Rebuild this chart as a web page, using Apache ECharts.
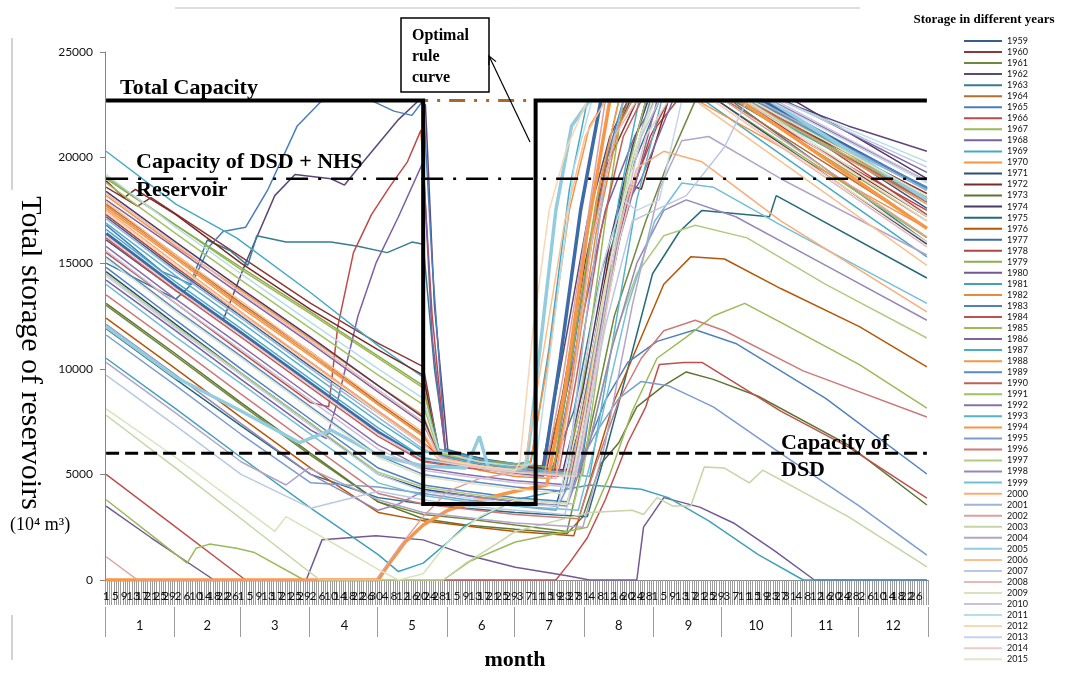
<!DOCTYPE html>
<html>
<head>
<meta charset="utf-8">
<script src="https://cdn.jsdelivr.net/npm/echarts@6/dist/echarts.min.js"></script>
<style>
  html, body { margin: 0; padding: 0; background: #fff; }
  #chart { width: 1067px; height: 700px; }
</style>
</head>
<body>
<div id="chart"></div>
<script>
// days of a leap year (the axis has a Feb 29), labels are day-of-month
const monthDays = [31, 29, 31, 30, 31, 30, 31, 31, 30, 31, 30, 31];
const monthNames = ['1', '2', '3', '4', '5', '6', '7', '8', '9', '10', '11', '12'];

const years = [1959, 1960, 1961, 1962, 1963, 1964, 1965, 1966, 1967, 1968, 1969, 1970,
  1971, 1972, 1973, 1974, 1975, 1976, 1977, 1978, 1979, 1980, 1981, 1982, 1983, 1984,
  1985, 1986, 1987, 1988, 1989, 1990, 1991, 1992, 1993, 1994, 1995, 1996, 1997, 1998,
  1999, 2000, 2001, 2002, 2003, 2004, 2005, 2006, 2007, 2008, 2009, 2010, 2011, 2012,
  2013, 2014, 2015];
const thickYears = [1977, 1994, 2005];

// reference levels (10^4 m3)
const totalCapacity = 22700;
const dsdNhsCapacity = 19000;
const dsdCapacity = 6000;
// optimal rule curve: [day index, storage]
const ruleCurve = [[0, 22700], [141, 22700], [141, 3600], [191, 3600], [191, 22700], [365, 22700]];

// storage per year as [day index, storage] points
const storage = [
  [[0,17200],[31,14700],[60,12500],[91,10100],[121,7900],[141,6400],[149,5900],[166,5500],[182,5200],[199,5000],[207,9500],[216,16000],[226,21000],[233,22700],[282,22700],[320,20700],[365,17600]],
  [[0,18600],[14,17700],[20,18100],[60,15300],[91,13100],[121,11200],[141,10100],[148,6100],[165,5700],[182,5400],[196,5300],[203,8800],[213,15000],[222,19500],[236,22700],[284,22700],[365,18300]],
  [[0,13000],[31,10600],[60,8300],[91,5900],[121,3700],[141,3100],[160,2900],[182,2600],[205,2300],[213,6000],[226,12500],[240,17000],[250,19800],[262,22700],[292,22700],[365,17900]],
  [[0,16100],[31,13700],[52,12300],[62,15000],[75,18200],[84,19200],[100,19000],[106,18700],[112,19500],[130,21800],[139,22700],[142,22500],[146,13000],[152,6100],[170,5700],[182,5500],[194,5400],[202,10000],[214,17000],[224,21000],[232,22700],[300,22700],[330,21500],[365,20300]],
  [[0,15000],[31,13300],[37,13900],[45,16100],[55,15600],[63,14900],[67,16300],[80,16000],[100,16000],[112,15800],[125,15500],[136,16000],[141,15900],[146,10000],[151,6200],[168,5700],[182,5400],[198,5200],[208,8000],[220,14500],[232,19000],[246,22700],[278,22700],[365,16000]],
  [[0,17800],[31,15400],[60,13100],[91,10800],[121,8400],[141,6900],[148,5800],[165,5400],[182,5100],[194,4900],[204,9000],[214,15000],[223,20000],[232,22700],[276,22700],[365,16700]],
  [[0,16800],[25,14600],[38,14000],[46,15800],[52,16500],[62,16700],[72,18500],[85,21500],[96,22700],[118,22700],[128,22200],[136,22000],[141,22700],[145,15000],[151,6000],[170,5600],[182,5400],[199,5200],[208,11000],[220,19000],[230,22700],[286,22700],[365,18600]],
  [[0,15500],[31,13100],[60,10800],[91,8400],[99,8200],[103,12000],[110,15500],[118,17300],[126,18600],[134,19800],[140,21300],[145,12500],[151,6000],[170,5600],[182,5300],[207,5000],[218,11000],[232,18000],[245,21500],[254,22700],[290,22700],[365,17300]],
  [[0,19100],[31,16800],[60,14700],[91,12600],[121,10500],[141,9100],[148,6100],[166,5600],[182,5300],[205,5000],[213,10000],[222,17000],[230,22700],[272,22700],[365,16200]],
  [[0,14200],[31,11800],[60,9500],[91,7100],[98,6700],[103,8500],[112,12500],[120,15000],[130,17200],[141,19800],[145,11500],[151,5900],[170,5500],[182,5300],[197,5100],[208,10500],[222,17500],[235,21000],[244,22700],[281,22700],[365,18100]],
  [[0,20300],[31,17800],[58,16200],[91,13600],[121,11100],[141,9600],[148,6200],[166,5700],[182,5500],[189,5600],[197,11000],[206,18500],[214,22700],[266,22700],[365,15300]],
  [[0,18200],[31,15800],[60,13700],[91,11400],[121,9200],[141,7800],[148,5900],[166,5500],[182,5300],[188,5200],[196,10000],[206,17500],[215,21500],[222,22700],[263,22700],[365,16650]],
  [[0,14600],[31,12100],[60,9800],[91,7400],[121,5000],[141,4300],[160,4000],[182,3700],[200,3500],[210,7000],[221,13500],[232,19500],[240,22700],[272,22700],[365,15900]],
  [[0,18900],[8,18100],[13,18500],[31,17300],[60,15000],[91,12800],[121,10900],[141,9700],[148,5900],[166,5500],[182,5400],[205,5200],[214,9500],[224,15500],[233,18700],[238,18500],[250,22700],[282,22700],[365,17200]],
  [[0,13100],[31,10700],[60,8400],[91,6000],[121,3700],[141,2900],[160,2600],[182,2400],[205,2200],[212,3000],[220,5500],[228,6500],[236,8200],[248,9200],[258,9850],[270,9500],[290,8700],[330,6400],[365,3550]],
  [[0,18400],[31,16000],[60,13800],[91,11500],[121,9200],[141,7700],[148,5800],[166,5400],[182,5200],[203,5100],[212,9000],[224,16000],[234,20500],[241,22700],[306,22700],[365,19000]],
  [[0,11900],[31,9500],[60,7300],[91,5000],[121,3900],[141,3600],[160,3400],[182,3200],[214,3000],[222,6000],[232,10000],[243,14500],[255,16500],[265,17500],[295,17200],[298,18200],[365,14300]],
  [[0,12400],[31,10000],[60,7700],[91,5300],[121,3200],[141,2800],[165,2500],[182,2300],[208,2100],[216,5000],[226,8500],[236,11000],[248,14000],[260,15300],[275,15200],[300,13800],[335,12000],[365,10090]],
  [[0,16400],[31,13900],[60,11700],[91,9300],[121,7000],[141,5700],[160,5400],[182,5100],[194,4900],[202,10500],[211,17500],[220,22700],[292,22700],[365,18500]],
  [[0,17300],[31,14800],[60,12600],[91,10300],[121,8000],[141,6500],[149,5800],[166,5500],[182,5300],[209,5100],[218,10500],[230,17000],[242,21000],[250,22700],[279,22700],[365,17500]],
  [[0,19000],[31,16800],[60,14800],[91,12700],[121,10600],[141,9200],[148,6000],[166,5600],[182,5500],[199,5300],[207,10500],[218,18000],[228,22700],[280,22700],[365,17000]],
  [[0,3500],[20,2000],[48,0],[89,0],[96,1900],[120,2100],[141,1900],[160,1200],[182,600],[205,200],[215,0],[236,0],[239,2500],[248,3900],[264,3450],[279,2700],[297,1400],[315,0],[365,0]],
  [[0,10500],[31,8100],[60,5800],[91,3400],[121,1200],[130,400],[141,800],[152,1800],[160,2600],[182,3800],[200,4200],[215,4500],[238,4300],[250,3900],[268,2800],[290,1200],[310,0],[365,0]],
  [[0,17700],[31,15300],[60,13000],[91,10700],[121,8300],[141,6800],[148,5800],[166,5200],[182,4900],[198,4800],[207,9000],[218,16500],[228,21500],[234,22700],[290,22700],[365,18000]],
  [[0,14800],[31,12300],[60,10000],[91,7600],[121,5300],[141,4500],[160,4200],[182,3900],[205,3700],[212,5800],[222,8500],[232,10300],[245,11300],[262,11850],[280,11200],[320,8600],[365,5020]],
  [[0,5000],[31,2500],[62,0],[200,0],[206,800],[214,2000],[222,3800],[232,6500],[240,8200],[246,10200],[257,10300],[265,10300],[300,8000],[330,6300],[365,3880]],
  [[0,3800],[18,2300],[36,800],[40,1500],[46,1700],[58,1500],[66,1300],[88,0],[150,0],[162,900],[182,1800],[214,2500],[224,5000],[234,8000],[245,10500],[258,11500],[270,12500],[284,13100],[300,12200],[335,10200],[365,8140]],
  [[0,18000],[31,15700],[60,13500],[91,11200],[121,8900],[141,7400],[148,5900],[166,5500],[182,5300],[211,5100],[219,11000],[230,17500],[238,19000],[252,22700],[302,22700],[365,19300]],
  [[0,16600],[31,14100],[60,11900],[91,9500],[121,7200],[141,5800],[160,5400],[182,5100],[210,4900],[218,10000],[228,18000],[237,22700],[282,22700],[365,17900]],
  [[0,17600],[31,15200],[60,12900],[91,10600],[121,8300],[141,6800],[148,5800],[166,5400],[182,5200],[200,5000],[209,11000],[219,18500],[228,22700],[285,22700],[365,17800]],
  [[0,15300],[31,12800],[60,10600],[91,8200],[121,5900],[141,5000],[160,4700],[182,4400],[204,4200],[212,8000],[222,14000],[232,19000],[242,22700],[288,22700],[365,18600]],
  [[0,16200],[31,13700],[60,11500],[91,9100],[121,6800],[141,5600],[160,5300],[182,5100],[201,4900],[209,9500],[220,16500],[230,21000],[238,22700],[286,22700],[365,17900]],
  [[0,18800],[31,16400],[60,14200],[91,11900],[121,9700],[141,8300],[148,6000],[166,5600],[182,5300],[212,5000],[220,11000],[231,19000],[240,22700],[283,22700],[365,18100]],
  [[0,15800],[31,13300],[60,11100],[91,8700],[121,6400],[141,5300],[160,5000],[182,4700],[206,4500],[213,8000],[224,14500],[236,19000],[245,22700],[296,22700],[365,18900]],
  [[0,16900],[31,14400],[60,12200],[91,9800],[121,7500],[141,6100],[152,5800],[166,5500],[182,5300],[215,4900],[224,10500],[236,18000],[247,22700],[286,22700],[365,18500]],
  [[0,0],[121,0],[126,800],[133,1800],[141,2600],[152,3300],[166,3800],[182,4200],[196,4500],[204,9000],[214,16500],[224,22700],[282,22700],[365,16650]],
  [[0,11600],[31,9200],[60,6900],[91,4600],[121,4400],[141,4100],[160,3800],[182,3500],[200,3300],[208,5000],[218,7000],[228,8600],[238,9400],[250,9200],[270,8200],[300,6000],[335,3500],[365,1180]],
  [[0,13500],[31,11100],[60,8800],[91,6400],[121,4100],[141,3600],[165,3300],[182,3100],[210,2900],[218,5500],[228,8500],[238,10500],[248,11800],[262,12300],[275,11800],[310,9900],[365,7720]],
  [[0,14500],[31,12000],[60,9800],[91,7400],[121,5100],[141,4400],[160,4100],[182,3800],[208,3600],[216,7000],[226,11500],[236,14500],[248,16300],[262,16800],[285,16200],[320,14000],[365,11460]],
  [[0,12100],[31,9700],[60,7400],[91,5000],[121,3300],[130,3600],[141,4200],[160,4000],[182,3700],[205,3500],[215,6500],[225,11000],[236,15000],[248,17500],[258,18000],[280,17200],[320,14900],[365,12300]],
  [[0,14000],[31,11500],[60,9300],[91,6900],[121,4600],[141,4000],[160,3700],[182,3500],[210,3300],[220,7500],[232,13000],[244,17000],[256,18800],[270,18600],[300,16800],[365,13100]],
  [[0,17500],[31,15000],[60,12700],[91,10300],[121,8000],[141,6500],[148,5700],[166,5300],[182,5100],[206,4900],[214,9000],[226,16000],[236,19500],[248,20300],[265,19800],[300,17000],[365,12700]],
  [[0,17100],[31,14600],[60,12400],[91,10000],[121,7700],[141,6200],[152,5700],[166,5400],[182,5200],[205,5000],[213,12000],[222,19000],[230,22700],[290,22700],[365,18450]],
  [[0,1100],[14,0],[120,0],[130,1500],[141,3000],[152,4200],[166,4800],[182,5100],[195,5000],[203,9500],[214,17000],[222,22700],[275,22700],[365,16250]],
  [[0,7800],[31,5300],[60,2900],[95,0],[150,0],[160,800],[175,1800],[182,2300],[200,2800],[215,3200],[234,3300],[239,3100],[245,3900],[252,3500],[260,3500],[266,5350],[275,5300],[286,4600],[292,5200],[330,3000],[365,620]],
  [[0,10300],[31,7900],[60,5600],[80,4500],[90,5300],[121,3800],[141,3200],[165,2900],[182,2700],[212,2500],[222,6500],[234,13000],[246,18500],[256,20800],[268,21000],[300,19000],[365,15390]],
  [[0,12000],[31,9600],[60,8000],[86,6500],[93,6800],[100,7100],[121,5900],[141,5400],[160,5300],[166,6800],[170,5300],[182,5200],[187,5400],[193,11000],[200,17500],[207,21500],[215,22700],[295,22700],[365,18000]],
  [[0,17900],[31,15400],[60,13200],[91,10800],[121,8500],[141,7000],[148,5800],[166,5400],[182,5200],[186,5400],[194,10500],[204,17000],[213,21000],[222,22700],[262,22700],[365,14900]],
  [[0,9700],[31,7300],[60,5000],[91,3400],[121,4200],[141,3800],[160,3500],[182,3300],[204,3100],[212,6500],[222,12000],[234,17000],[244,17500],[258,18200],[275,20500],[285,22700],[300,22700],[365,19550]],
  [[0,18300],[31,15900],[60,13600],[91,11300],[121,9000],[141,7500],[148,5800],[166,5300],[182,5000],[200,4800],[207,9000],[216,16000],[226,21000],[236,22700],[270,22700],[365,15770]],
  [[0,8100],[31,5800],[60,3500],[75,2300],[80,3000],[100,1800],[121,500],[130,0],[141,300],[152,1800],[166,3000],[182,3800],[205,3600],[213,8000],[224,15000],[236,20500],[244,22700],[285,22700],[365,17200]],
  [[0,15600],[31,13100],[60,10900],[91,8500],[121,6200],[141,5200],[160,4900],[182,4600],[207,4400],[215,8500],[226,15500],[238,21000],[246,22700],[298,22700],[365,18900]],
  [[0,19200],[31,16700],[60,14500],[91,12200],[121,10000],[141,8600],[148,6100],[166,5600],[182,5400],[191,5500],[199,12000],[208,19500],[216,22700],[300,22700],[365,19800]],
  [[0,17400],[31,14900],[60,12600],[91,10200],[121,7900],[141,6400],[149,5700],[166,5400],[182,5200],[184,5600],[190,12000],[197,17500],[205,20500],[214,22700],[270,22700],[365,16000]],
  [[0,14400],[31,11900],[60,9700],[91,7300],[121,5000],[141,4200],[160,3900],[182,3600],[201,3500],[210,8500],[221,15000],[230,18000],[236,17500],[246,18000],[256,22700],[295,22700],[365,18800]],
  [[0,16300],[31,13800],[60,11600],[91,9200],[121,6900],[141,5700],[160,5400],[182,5100],[209,4900],[217,9500],[228,16000],[240,21000],[250,22700],[284,22700],[365,17000]],
  [[0,15200],[31,12700],[60,10500],[91,8100],[121,5800],[141,4900],[160,4600],[182,4300],[203,4100],[211,8000],[222,14000],[234,20000],[243,22700],[287,22700],[365,18200]]
];

// Excel-like series palette, six hues repeated in shades
const lineColors = [
  '#385D8A', '#8C3836', '#71893F', '#5C4776', '#357D91', '#B66D31',
  '#4A7EBB', '#BE4B48', '#98B954', '#7D60A0', '#46AAC5', '#F69546',
  '#2C4D75', '#772C2A', '#5F7530', '#4D3B62', '#276A7C', '#B65708',
  '#3C6BA8', '#B04541', '#8DAE4E', '#735896', '#43A0BA', '#E88A3E',
  '#4F81BD', '#C0504D', '#9BBB59', '#8064A2', '#4BACC6', '#F79646',
  '#5B8AC4', '#C45E5B', '#A2C066', '#8A70AB', '#58B2CB', '#F79646',
  '#7A9CCE', '#CD7A78', '#B0CB81', '#9987B5', '#74BFD3', '#F9AE7A',
  '#9FB4D9', '#D9A2A1', '#C3D6A3', '#B3A5C8', '#93CDDD', '#FAC090',
  '#B9C9E4', '#E6B9B8', '#D7E4BD', '#CCC1DA', '#B7DDE8', '#FCD5B5',
  '#C6D4EA', '#EBCCCB', '#DCE6C9'
];

// axis categories
const days = [];
const monthOfDay = [];
const monthStart = new Set();
const monthMid = new Set();
monthDays.forEach(function (len, m) {
  monthStart.add(days.length);
  monthMid.add(days.length + Math.floor(len / 2));
  for (let d = 1; d <= len; d++) {
    days.push(String(d));
    monthOfDay.push(monthNames[m]);
  }
});

const serif = '"Liberation Serif", "DejaVu Serif", serif';
const sans = 'Lato, "Open Sans", sans-serif';

const myChart = echarts.init(document.getElementById('chart'), null, { renderer: 'canvas' });

const yearSeries = years.map(function (y, i) {
  const thick = thickYears.indexOf(y) >= 0;
  return {
    name: String(y),
    type: 'line',
    data: storage[i],
    symbol: 'none',
    silent: true,
    lineStyle: { width: thick ? 3.5 : 1.5, color: lineColors[i] },
    itemStyle: { color: lineColors[i] },
    emphasis: { disabled: true },
    z: 2
  };
});

// arrow from the rule curve up to its label box
const tip = [489, 56], tail = [530, 142];
const ang = Math.atan2(tail[1] - tip[1], tail[0] - tip[0]);
const head = function (s) {
  return [tip[0] + 9 * Math.cos(ang + s), tip[1] + 9 * Math.sin(ang + s)];
};

const option = {
  animation: false,
  backgroundColor: '#fff',
  grid: { left: 105, right: 139, top: 52, bottom: 120, containLabel: false },
  legend: {
    orient: 'vertical',
    left: 958,
    top: 31,
    itemWidth: 38,
    itemHeight: 10,
    itemGap: 1.04,
    selectedMode: false,
    data: years.map(String),
    itemStyle: { opacity: 0 },
    textStyle: { fontSize: 9, lineHeight: 10, color: '#111', fontFamily: sans }
  },
  xAxis: [
    {
      type: 'category',
      data: days,
      boundaryGap: true,
      axisLine: { lineStyle: { color: '#868686', width: 1 } },
      axisTick: { show: true, interval: 0, length: 25, lineStyle: { color: '#9c9c9c' } },
      axisLabel: { interval: 3, fontSize: 12, margin: 10, color: '#111', fontFamily: sans },
      splitLine: { show: false }
    },
    {
      type: 'category',
      data: monthOfDay,
      position: 'bottom',
      offset: 27,
      boundaryGap: true,
      axisLine: { show: false },
      axisTick: {
        show: true,
        interval: function (i) { return monthStart.has(i); },
        length: 30,
        lineStyle: { color: '#9c9c9c' }
      },
      axisLabel: {
        interval: function (i) { return monthMid.has(i); },
        fontSize: 13,
        margin: 12,
        color: '#111',
        fontFamily: sans
      },
      splitLine: { show: false }
    }
  ],
  yAxis: {
    type: 'value',
    min: 0,
    max: 25000,
    interval: 5000,
    axisLine: { show: true, lineStyle: { color: '#868686' } },
    axisTick: { show: true, length: 5, lineStyle: { color: '#868686' } },
    axisLabel: {
      fontSize: 12, margin: 12, color: '#111', fontFamily: sans,
      formatter: function (v) { return String(v); }
    },
    splitLine: { show: false }
  },
  series: yearSeries.concat([
    {
      name: 'Total capacity',
      type: 'line',
      data: [[0, totalCapacity], [365, totalCapacity]],
      symbol: 'none',
      silent: true,
      lineStyle: { color: '#A5692B', width: 3, type: [16, 9, 3, 9, 3, 9] },
      z: 3
    },
    {
      name: 'DSD + NHS',
      type: 'line',
      data: [[0, dsdNhsCapacity], [365, dsdNhsCapacity]],
      symbol: 'none',
      silent: true,
      lineStyle: { color: '#000', width: 2.5, type: [22, 10, 3, 10] },
      z: 3
    },
    {
      name: 'DSD',
      type: 'line',
      data: [[0, dsdCapacity], [365, dsdCapacity]],
      symbol: 'none',
      silent: true,
      lineStyle: { color: '#000', width: 3, type: [13, 6] },
      z: 3
    },
    {
      name: 'Optimal rule curve',
      type: 'line',
      data: ruleCurve,
      symbol: 'none',
      silent: true,
      lineStyle: { color: '#000', width: 4, join: 'miter' },
      z: 4
    }
  ]),
  graphic: [
    { type: 'line', shape: { x1: 175, y1: 8, x2: 860, y2: 8 }, style: { stroke: '#bdbdbd', lineWidth: 1 } },
    { type: 'line', shape: { x1: 12, y1: 38, x2: 12, y2: 190 }, style: { stroke: '#c4c4c4', lineWidth: 1.5 } },
    { type: 'line', shape: { x1: 12, y1: 615, x2: 12, y2: 660 }, style: { stroke: '#c4c4c4', lineWidth: 1.5 } },
    {
      type: 'text', x: 30, y: 353, rotation: -Math.PI / 2,
      style: { text: 'Total storage of reservoirs', font: '30px ' + serif, fill: '#000', textAlign: 'center', textVerticalAlign: 'middle' }
    },
    {
      type: 'text', x: 10, y: 525,
      style: { text: '(10\u2074 m\u00B3)', font: '18px ' + serif, fill: '#000', textAlign: 'left', textVerticalAlign: 'middle' }
    },
    {
      type: 'text', x: 515, y: 660,
      style: { text: 'month', font: 'bold 22px ' + serif, fill: '#000', textAlign: 'center', textVerticalAlign: 'middle' }
    },
    {
      type: 'text', x: 984, y: 20,
      style: { text: 'Storage in different years', font: 'bold 13px ' + serif, fill: '#000', textAlign: 'center', textVerticalAlign: 'middle' }
    },
    {
      type: 'text', x: 120, y: 88, z: 10,
      style: { text: 'Total Capacity', font: 'bold 22px ' + serif, fill: '#000', textAlign: 'left', textVerticalAlign: 'middle' }
    },
    {
      type: 'text', x: 136, y: 162, z: 10,
      style: { text: 'Capacity of DSD + NHS', font: 'bold 22px ' + serif, fill: '#000', textAlign: 'left', textVerticalAlign: 'middle' }
    },
    {
      type: 'text', x: 136, y: 190, z: 10,
      style: { text: 'Reservoir', font: 'bold 22px ' + serif, fill: '#000', textAlign: 'left', textVerticalAlign: 'middle' }
    },
    {
      type: 'text', x: 781, y: 443, z: 10,
      style: { text: 'Capacity of', font: 'bold 22px ' + serif, fill: '#000', textAlign: 'left', textVerticalAlign: 'middle' }
    },
    {
      type: 'text', x: 781, y: 470, z: 10,
      style: { text: 'DSD', font: 'bold 22px ' + serif, fill: '#000', textAlign: 'left', textVerticalAlign: 'middle' }
    },
    {
      type: 'rect', z: 10,
      shape: { x: 401, y: 18, width: 88, height: 74 },
      style: { fill: '#fff', stroke: '#000', lineWidth: 1.5 }
    },
    {
      type: 'text', x: 412, y: 36, z: 11,
      style: { text: 'Optimal', font: 'bold 16px ' + serif, fill: '#000', textAlign: 'left', textVerticalAlign: 'middle' }
    },
    {
      type: 'text', x: 412, y: 57, z: 11,
      style: { text: 'rule', font: 'bold 16px ' + serif, fill: '#000', textAlign: 'left', textVerticalAlign: 'middle' }
    },
    {
      type: 'text', x: 412, y: 78, z: 11,
      style: { text: 'curve', font: 'bold 16px ' + serif, fill: '#000', textAlign: 'left', textVerticalAlign: 'middle' }
    },
    {
      type: 'polyline', z: 11,
      shape: { points: [tail, tip] },
      style: { stroke: '#000', lineWidth: 1.2, fill: null }
    },
    {
      type: 'polyline', z: 11,
      shape: { points: [head(0.45), tip, head(-0.45)] },
      style: { stroke: '#000', lineWidth: 1.2, fill: null }
    }
  ]
};

myChart.setOption(option);
</script>
</body>
</html>
